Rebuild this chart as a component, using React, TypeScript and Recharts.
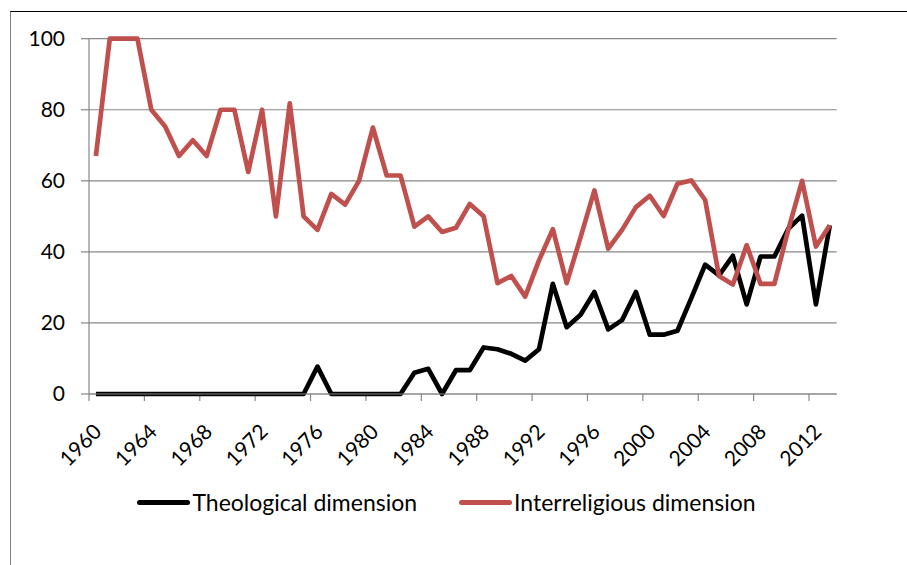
import React from "react"
import { LineChart, Line, XAxis, YAxis, CartesianGrid, Legend, ReferenceLine } from "recharts"

// years on the category axis
const years = [
    1960, 1961, 1962, 1963, 1964, 1965, 1966, 1967, 1968, 1969,
    1970, 1971, 1972, 1973, 1974, 1975, 1976, 1977, 1978, 1979,
    1980, 1981, 1982, 1983, 1984, 1985, 1986, 1987, 1988, 1989,
    1990, 1991, 1992, 1993, 1994, 1995, 1996, 1997, 1998, 1999,
    2000, 2001, 2002, 2003, 2004, 2005, 2006, 2007, 2008, 2009,
    2010, 2011, 2012, 2013,
]

const theological = [
    0, 0, 0, 0, 0, 0, 0, 0, 0, 0,
    0, 0, 0, 0, 0, 0, 7.7, 0, 0, 0,
    0, 0, 0, 6.0, 7.1, 0, 6.7, 6.7, 13.1, 12.6,
    11.3, 9.4, 12.6, 31, 18.8, 22.3, 28.7, 18.2, 20.8, 28.7,
    16.7, 16.7, 17.8, 27, 36.4, 33.4, 38.9, 25.2, 38.7, 38.7,
    46.5, 50.2, 25.2, 47.5,
]

const interreligious = [
    67, 100, 100, 100, 80, 75.3, 67, 71.4, 67, 80,
    80, 62.5, 80, 50, 81.8, 50, 46.2, 56.3, 53.3, 60,
    75, 61.5, 61.5, 47.1, 50, 45.6, 46.8, 53.5, 50, 31.2,
    33.2, 27.4, 37.6, 46.4, 31.2, 44.1, 57.3, 40.9, 46.2, 52.6,
    55.8, 50.1, 59.2, 60.1, 54.6, 33.2, 30.8, 41.9, 31, 31,
    46.2, 60, 41.5, 47.5,
]

const yTicks = [0, 20, 40, 60, 80, 100]
const xLabelTicks = [1960, 1964, 1968, 1972, 1976, 1980, 1984, 1988, 1992, 1996, 2000, 2004, 2008, 2012]
// tick marks sit between categories, like Excel does it
const xTickMarks = [1959.5, 1963.5, 1967.5, 1971.5, 1975.5, 1979.5, 1983.5, 1987.5, 1991.5, 1995.5, 1999.5, 2003.5, 2007.5, 2011.5]

const data = years.map((year, i) => ({
    year,
    theological: theological[i],
    interreligious: interreligious[i],
}))

const FONT = "Lato, 'Open Sans', sans-serif"
const GRID = "#878787"

const YearTick = ({ x, y, payload }: any) => {
    const ax = x + 7
    const ay = y + 39
    return (
        <text
            x={ax}
            y={ay}
            textAnchor="end"
            fontSize={21}
            fontFamily={FONT}
            fill="#000"
            transform={`rotate(-45, ${ax}, ${ay})`}
        >
            {payload.value}
        </text>
    )
}

const LegendContent = () => {
    const items = [
        { label: "Theological dimension", color: "#000000" },
        { label: "Interreligious dimension", color: "#C0504D" },
    ]
    return (
        <div style={{ display: "flex", justifyContent: "center", gap: 42, fontFamily: FONT, fontSize: 23 }}>
            {items.map((it) => (
                <div key={it.label} style={{ display: "flex", alignItems: "center" }}>
                    <div style={{ width: 53, height: 5, borderRadius: 3, background: it.color, marginRight: 2 }} />
                    <span style={{ color: "#000" }}>{it.label}</span>
                </div>
            ))}
        </div>
    )
}

export default function App() {
    return (
        <div style={{ position: "absolute", left: 0, top: 0, width: 907, height: 565, overflow: "hidden", background: "#fff" }}>
            {/* chart area frame, cropped on the right and bottom */}
            <div
                style={{
                    position: "absolute",
                    left: 10,
                    top: 11,
                    width: 1000,
                    height: 1000,
                    borderTop: "1px solid #000",
                    borderLeft: "1px solid #808080",
                }}
            />
            <div style={{ position: "absolute", left: 0, top: 0 }}>
                <LineChart width={907} height={565} data={data} margin={{ top: 38.7, right: 70.3, left: 0, bottom: 0 }}>
                    <CartesianGrid vertical={false} stroke={GRID} strokeWidth={1.2} />
                    <XAxis
                        dataKey="year"
                        type="number"
                        domain={[1959.5, 2013.5]}
                        ticks={xLabelTicks}
                        interval={0}
                        height={171}
                        tickLine={false}
                        tickSize={0}
                        tickMargin={0}
                        axisLine={{ stroke: GRID, strokeWidth: 1.2 }}
                        tick={<YearTick />}
                    />
                    <YAxis
                        width={89}
                        domain={[0, 100]}
                        ticks={yTicks}
                        interval={0}
                        tickSize={8}
                        tickMargin={16}
                        tickLine={{ stroke: GRID, strokeWidth: 1.2 }}
                        axisLine={{ stroke: GRID, strokeWidth: 1.2 }}
                        tick={{ fontSize: 21, fontFamily: FONT, fill: "#000" }}
                    />
                    {xTickMarks.map((t) => (
                        <ReferenceLine
                            key={t}
                            segment={[{ x: t, y: 0 }, { x: t, y: -2 }]}
                            stroke={GRID}
                            strokeWidth={1.2}
                            ifOverflow="visible"
                        />
                    ))}
                    <Legend
                        layout="horizontal"
                        verticalAlign="middle"
                        align="center"
                        wrapperStyle={{ top: 488, left: -7, width: 907 }}
                        content={<LegendContent />}
                    />
                    <Line
                        type="linear"
                        dataKey="theological"
                        name="Theological dimension"
                        stroke="#000000"
                        strokeWidth={4.7}
                        strokeLinejoin="round"
                        dot={false}
                        isAnimationActive={false}
                    />
                    <Line
                        type="linear"
                        dataKey="interreligious"
                        name="Interreligious dimension"
                        stroke="#C0504D"
                        strokeWidth={4.7}
                        strokeLinejoin="round"
                        dot={false}
                        isAnimationActive={false}
                    />
                </LineChart>
            </div>
        </div>
    )
}
